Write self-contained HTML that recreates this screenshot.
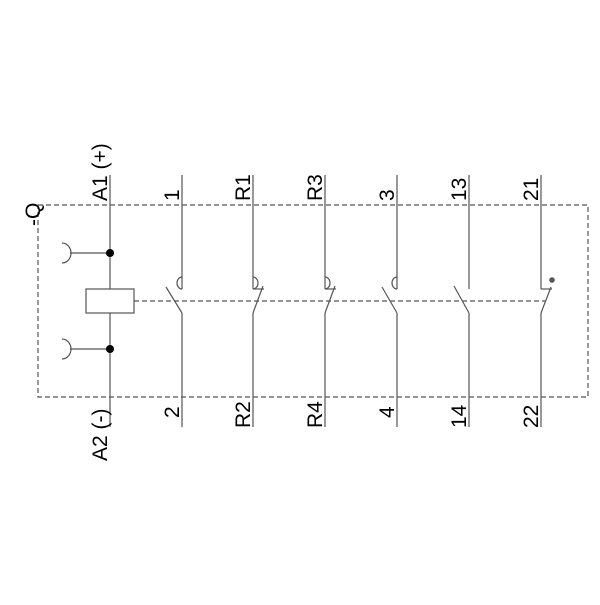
<!DOCTYPE html>
<html><head><style>body{margin:0;background:#fff}</style></head><body>
<svg width="600" height="600" viewBox="0 0 600 600" xmlns="http://www.w3.org/2000/svg">
<g stroke="#555" stroke-width="1.2" fill="none">
<rect x="38" y="205" width="550" height="192" stroke-dasharray="5,3"/>
<line x1="134" y1="301" x2="545" y2="301" stroke-dasharray="5,3"/>
<line x1="110" y1="175" x2="110" y2="289"/>
<line x1="110" y1="313" x2="110" y2="427"/>
<rect x="86" y="289" width="48" height="24" fill="#fff"/>
<line x1="70" y1="253" x2="110" y2="253"/>
<line x1="70" y1="349" x2="110" y2="349"/>
<path d="M62 243 A9 10 0 0 1 62 263"/>
<path d="M62 339 A9 10 0 0 1 62 359"/>
<line x1="182" y1="175" x2="182" y2="289"/>
<line x1="182" y1="313" x2="182" y2="427"/>
<path d="M182 277 A5 6 0 0 0 182 289"/>
<line x1="182" y1="313" x2="166" y2="287"/>
<line x1="253" y1="175" x2="253" y2="289"/>
<line x1="253" y1="313" x2="253" y2="427"/>
<path d="M253 277 A5 6 0 0 1 253 289"/>
<line x1="253" y1="289" x2="264" y2="289"/>
<line x1="253" y1="313" x2="263" y2="286"/>
<line x1="325" y1="175" x2="325" y2="289"/>
<line x1="325" y1="313" x2="325" y2="427"/>
<path d="M325 277 A5 6 0 0 1 325 289"/>
<line x1="325" y1="289" x2="336" y2="289"/>
<line x1="325" y1="313" x2="335" y2="286"/>
<line x1="397" y1="175" x2="397" y2="289"/>
<line x1="397" y1="313" x2="397" y2="427"/>
<path d="M397 277 A5 6 0 0 0 397 289"/>
<line x1="397" y1="313" x2="382" y2="287"/>
<line x1="469" y1="175" x2="469" y2="289"/>
<line x1="469" y1="313" x2="469" y2="427"/>
<line x1="469" y1="313" x2="454" y2="286"/>
<line x1="541" y1="175" x2="541" y2="289"/>
<line x1="541" y1="313" x2="541" y2="427"/>
<line x1="541" y1="289" x2="552" y2="289"/>
<line x1="541" y1="313" x2="551" y2="287"/>
</g>
<circle cx="110" cy="253" r="4" fill="#000"/>
<circle cx="110" cy="349" r="4" fill="#000"/>
<circle cx="552" cy="280" r="2.8" fill="#555"/>
<g font-family="Liberation Sans, sans-serif" font-size="21" fill="#000" text-anchor="start">
<text transform="translate(40,226) rotate(-90)">-Q</text>
<text transform="translate(107,201) rotate(-90)">A1 (+)</text>
<text transform="translate(179,201) rotate(-90)">1</text>
<text transform="translate(250,201) rotate(-90)">R1</text>
<text transform="translate(322,201) rotate(-90)">R3</text>
<text transform="translate(394,201) rotate(-90)">3</text>
<text transform="translate(466,201) rotate(-90)">13</text>
<text transform="translate(538,201) rotate(-90)">21</text>
<text transform="translate(107,461) rotate(-90)">A2 (-)</text>
<text transform="translate(179,418) rotate(-90)">2</text>
<text transform="translate(250,428) rotate(-90)">R2</text>
<text transform="translate(322,428) rotate(-90)">R4</text>
<text transform="translate(394,418) rotate(-90)">4</text>
<text transform="translate(466,428) rotate(-90)">14</text>
<text transform="translate(538,428) rotate(-90)">22</text>
</g>
</svg>
</body></html>
